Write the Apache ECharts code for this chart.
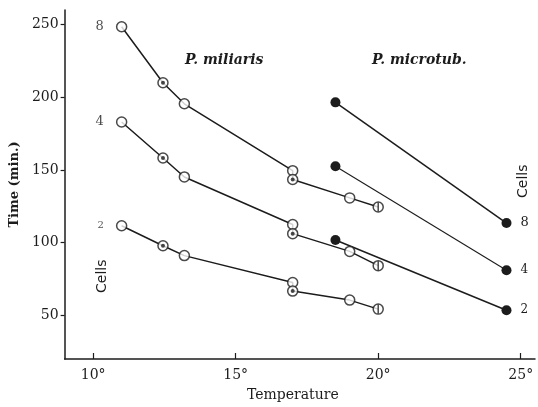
<!DOCTYPE html>
<html>
<head>
<meta charset="utf-8">
<script src="https://cdn.jsdelivr.net/npm/echarts@6/dist/echarts.min.js"></script>
<style>
  html, body { margin: 0; padding: 0; background: #fff; }
  #chart { width: 538px; height: 407px; }
</style>
</head>
<body>
<div id="chart"></div>
<script>
// P. miliaris: temperatures (two readings at 17 deg)
const milTemps = [11, 12.45, 13.2, 17, 17, 19, 20];
const mil8 = [248.5, 210, 195.5, 149.5, 143.4, 130.8, 124.5];
const mil4 = [183, 158.2, 145.2, 112.5, 106.2, 94, 84.2];
const mil2 = [111.6, 97.9, 91.1, 72.6, 66.7, 60.5, 54.3];
// marker kind for each miliaris point
const milMarks = ["open", "dot", "open", "open", "dot", "open", "cross"];

// P. microtub.
const micTemps = [18.5, 24.5];
const mic8 = [196.5, 113.5];
const mic4 = [152.5, 81];
const mic2 = [101.8, 53.5];

const cellCounts = ["8", "4", "2"];
const xTicks = [10, 15, 20, 25];
const yTicks = [50, 100, 150, 200, 250];

const ink = "#1c1c1c";
const serif = "DejaVu Serif";

let chart = echarts.init(document.getElementById("chart"));

function pairs(xs, ys) {
  return xs.map((x, i) => [x, ys[i]]);
}

let series = [];
let milSets = [mil8, mil4, mil2];
milSets.forEach((vals, k) => {
  let pts = pairs(milTemps, vals);
  series.push({
    type: "line",
    data: pts,
    symbol: "none",
    lineStyle: { color: ink, width: 1.5 },
    z: 2,
    silent: true,
  });
  // open circles (all points)
  series.push({
    type: "scatter",
    data: pts.map((p, i) => ({
      value: p,
      label: {
        show: i === 0,
        formatter: cellCounts[k],
        position: "left",
        distance: 12,
        color: ink,
        fontFamily: serif,
        fontSize: k === 2 ? 10 : 13,
      },
    })),
    symbol: "circle",
    symbolSize: 10,
    itemStyle: { color: "#fff", borderColor: ink, borderWidth: 1.5 },
    z: 3,
  });
  // inner dot
  series.push({
    type: "scatter",
    data: pts.filter((p, i) => milMarks[i] === "dot"),
    symbol: "circle",
    symbolSize: 4,
    itemStyle: { color: ink },
    z: 4,
  });
  // vertical bar
  series.push({
    type: "scatter",
    data: pts.filter((p, i) => milMarks[i] === "cross"),
    symbol: "rect",
    symbolSize: [1.5, 9],
    itemStyle: { color: ink },
    z: 4,
  });
});

let micSets = [mic8, mic4, mic2];
micSets.forEach((vals, k) => {
  series.push({
    type: "line",
    data: pairs(micTemps, vals).map((p, i) => ({
      value: p,
      label: {
        show: i === 1,
        formatter: cellCounts[k],
        position: "right",
        distance: 9,
        color: ink,
        fontFamily: serif,
        fontSize: k === 0 ? 13 : 12,
      },
    })),
    symbol: "circle",
    symbolSize: 10,
    showAllSymbol: true,
    itemStyle: { color: ink, borderColor: ink, borderWidth: 0 },
    lineStyle: { color: ink, width: k === 1 ? 1.1 : 1.5 },
    z: 3,
  });
});

let option = {
  backgroundColor: "#fff",
  animation: false,
  grid: { left: 62, right: 3, top: 10, bottom: 46 },
  xAxis: {
    type: "value",
    min: 9,
    max: 25.5,
    name: "Temperature",
    nameLocation: "middle",
    nameGap: 29,
    nameTextStyle: {
      color: ink,
      fontFamily: serif,
      fontSize: 14,
      padding: [0, 14, 0, 0],
    },
    axisLine: { lineStyle: { color: ink, width: 1.5 } },
    axisTick: {
      inside: true,
      length: 6,
      customValues: xTicks,
      lineStyle: { color: ink, width: 1.2 },
    },
    axisLabel: {
      customValues: xTicks,
      formatter: (v) => v + "°",
      color: ink,
      fontFamily: serif,
      fontSize: 14,
      margin: 9,
    },
    splitLine: { show: false },
  },
  yAxis: {
    type: "value",
    min: 20,
    max: 260,
    name: "Time (min.)",
    nameLocation: "middle",
    nameGap: 38,
    nameRotate: 90,
    nameTextStyle: {
      color: ink,
      fontFamily: serif,
      fontSize: 13,
      fontWeight: "bold",
    },
    axisLine: { show: true, lineStyle: { color: ink, width: 1.5 } },
    axisTick: {
      show: true,
      length: 4,
      customValues: yTicks,
      lineStyle: { color: ink, width: 1.2 },
    },
    axisLabel: {
      customValues: yTicks,
      color: ink,
      fontFamily: serif,
      fontSize: 14,
      margin: 6,
    },
    splitLine: { show: false },
  },
  graphic: [
    {
      type: "text",
      left: 185,
      top: 53,
      style: {
        text: "P. miliaris",
        fill: ink,
        font: "italic bold 14px 'DejaVu Serif'",
      },
    },
    {
      type: "text",
      left: 372,
      top: 53,
      style: {
        text: "P. microtub.",
        fill: ink,
        font: "italic bold 14px 'DejaVu Serif'",
      },
    },
    {
      type: "text",
      x: 95,
      y: 293,
      rotation: Math.PI / 2,
      style: {
        text: "Cells",
        fill: ink,
        font: "14px 'DejaVu Sans'",
      },
    },
    {
      type: "text",
      x: 516,
      y: 198,
      rotation: Math.PI / 2,
      style: {
        text: "Cells",
        fill: ink,
        font: "14px 'DejaVu Sans'",
      },
    },
  ],
  series: series,
};

chart.setOption(option);
</script>
</body>
</html>
